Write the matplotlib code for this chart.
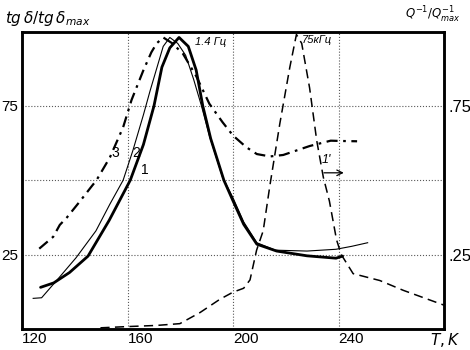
import matplotlib
matplotlib.use("Agg")
import matplotlib.pyplot as plt

plt.rcParams['font.family'] = ['Liberation Sans', 'DejaVu Sans']
plt.rcParams['mathtext.fontset'] = 'dejavusans'

# 1.4 Hz, tg(delta)/tg(delta)max, curve 1 (thick)
t1 = [127, 132, 138, 145, 153, 161, 166, 170, 173, 176, 179.5, 183, 186, 188.5,
      191.5, 196.5, 200, 204, 209, 216.5, 228, 239, 241.5]
v1 = [0.14, 0.155, 0.19, 0.245, 0.365, 0.50, 0.62, 0.75, 0.88, 0.945, 0.98, 0.95,
      0.87, 0.75, 0.64, 0.50, 0.43, 0.352, 0.285, 0.262, 0.246, 0.238, 0.245]

# curve 2 (thin)
t2 = [124.2, 127.4, 133, 140.5, 148, 153.3, 158.3, 162, 166, 168.5, 171, 173.5, 176,
      179, 182, 185, 188, 191, 196, 200, 204, 209, 216, 228, 239, 245, 251]
v2 = [0.103, 0.105, 0.162, 0.24, 0.33, 0.42, 0.50, 0.60, 0.72, 0.80, 0.875, 0.95, 0.98,
      0.96, 0.92, 0.84, 0.75, 0.65, 0.51, 0.44, 0.36, 0.29, 0.265, 0.262, 0.268, 0.278, 0.29]

# curve 3 (dash-dot)
t3 = [126.5, 131.8, 134.3, 137, 142, 146.4, 148.2, 153.3, 158.3, 161.5, 166, 169, 171,
      173.5, 177, 181, 186, 191, 196, 200, 205, 209, 214, 219, 224, 229, 233, 237, 241, 247]
v3 = [0.27, 0.31, 0.35, 0.375, 0.43, 0.48, 0.50, 0.577, 0.678, 0.77, 0.87, 0.93, 0.96,
      0.98, 0.96, 0.925, 0.85, 0.757, 0.695, 0.65, 0.611, 0.588, 0.58, 0.585, 0.60, 0.615,
      0.624, 0.633, 0.632, 0.631]

# 75 kHz internal friction Q^-1/Q^-1max, curve 1'
tq = [149.7, 159.6, 171, 179.8, 187.4, 195, 200, 204, 206.4, 208.9, 211.4, 213.9, 217.7,
      219.5, 221.5, 224, 226, 229, 231.7, 234.2, 236.5, 239.2, 241, 245.5, 255.6, 264.5, 280]
vq = [0.004, 0.008, 0.012, 0.018, 0.055, 0.10, 0.124, 0.137, 0.165, 0.265, 0.33, 0.48,
      0.69, 0.78, 0.88, 0.99, 0.96, 0.81, 0.633, 0.51, 0.43, 0.30, 0.25, 0.186, 0.163,
      0.13, 0.08]

xticks = [120, 160, 200, 240]
yticks = [0.25, 0.5, 0.75]
ylabels_left = ['25', '', '75']
ylabels_right = ['.25', '', '.75']

fig = plt.figure(figsize=(4.7, 3.5), dpi=100)
ax = fig.add_axes([0.047, 0.06, 0.898, 0.85])
ax2 = ax.twinx()

ax.plot(t1, v1, color='black', lw=2.0, solid_capstyle='round')
ax.plot(t2, v2, color='black', lw=0.8)
ax.plot(t3, v3, color='black', lw=1.6, dashes=(5, 2.5, 1.2, 2.5))
ax2.plot(tq, vq, color='black', lw=1.1, dashes=(6, 3.5))

for a in (ax, ax2):
    a.set_xlim(120, 280)
    a.set_ylim(0, 1.0)
ax.set_xticks(xticks)
ax.set_xticklabels([str(t) for t in xticks], fontsize=11)
for lbl in ax.get_xticklabels():
    lbl.set_ha('left')
ax.set_yticks(yticks)
ax.set_yticklabels(ylabels_left, fontsize=11)
ax2.set_yticks(yticks)
ax2.set_yticklabels(ylabels_right, fontsize=12)
ax.tick_params(axis='x', length=0, pad=2)
ax.tick_params(axis='y', length=0, pad=3)
ax2.tick_params(axis='y', length=0, pad=3)

ax.grid(True, linestyle=':', color='0.35', lw=0.8)
for a in (ax, ax2):
    for s in a.spines.values():
        s.set_linewidth(1.8)

ax.text(163.1, 0.59, '2', fontsize=10, ha='center', va='center')
ax.text(155.5, 0.59, '3', fontsize=10, ha='center', va='center')
ax.text(166.4, 0.534, '1', fontsize=10, ha='center', va='center')
ax.text(185.5, 0.966, '1.4 Гц', fontsize=8, style='italic', va='center')
ax.text(226.1, 0.97, '75кГц', fontsize=8, style='italic', va='center')
ax.text(233.6, 0.567, "1'", fontsize=9, style='italic', va='center')
ax.annotate('', xy=(243, 0.525), xytext=(233.4, 0.525),
            arrowprops=dict(arrowstyle='->', color='black', lw=0.9))

fig.text(5 / 470, 1 - 18 / 350, r'$tg\,\delta/tg\,\delta_{max}$', fontsize=11,
         ha='left', va='center')
fig.text(405 / 470, 1 - 15 / 350, r'$Q^{-1}/Q^{-1}_{max}$', fontsize=8.5,
         ha='left', va='center')
fig.text(430 / 470, 1 - 340 / 350, r'$T, K$', fontsize=11, ha='left', va='center')

fig.savefig('out.png', dpi=100)
